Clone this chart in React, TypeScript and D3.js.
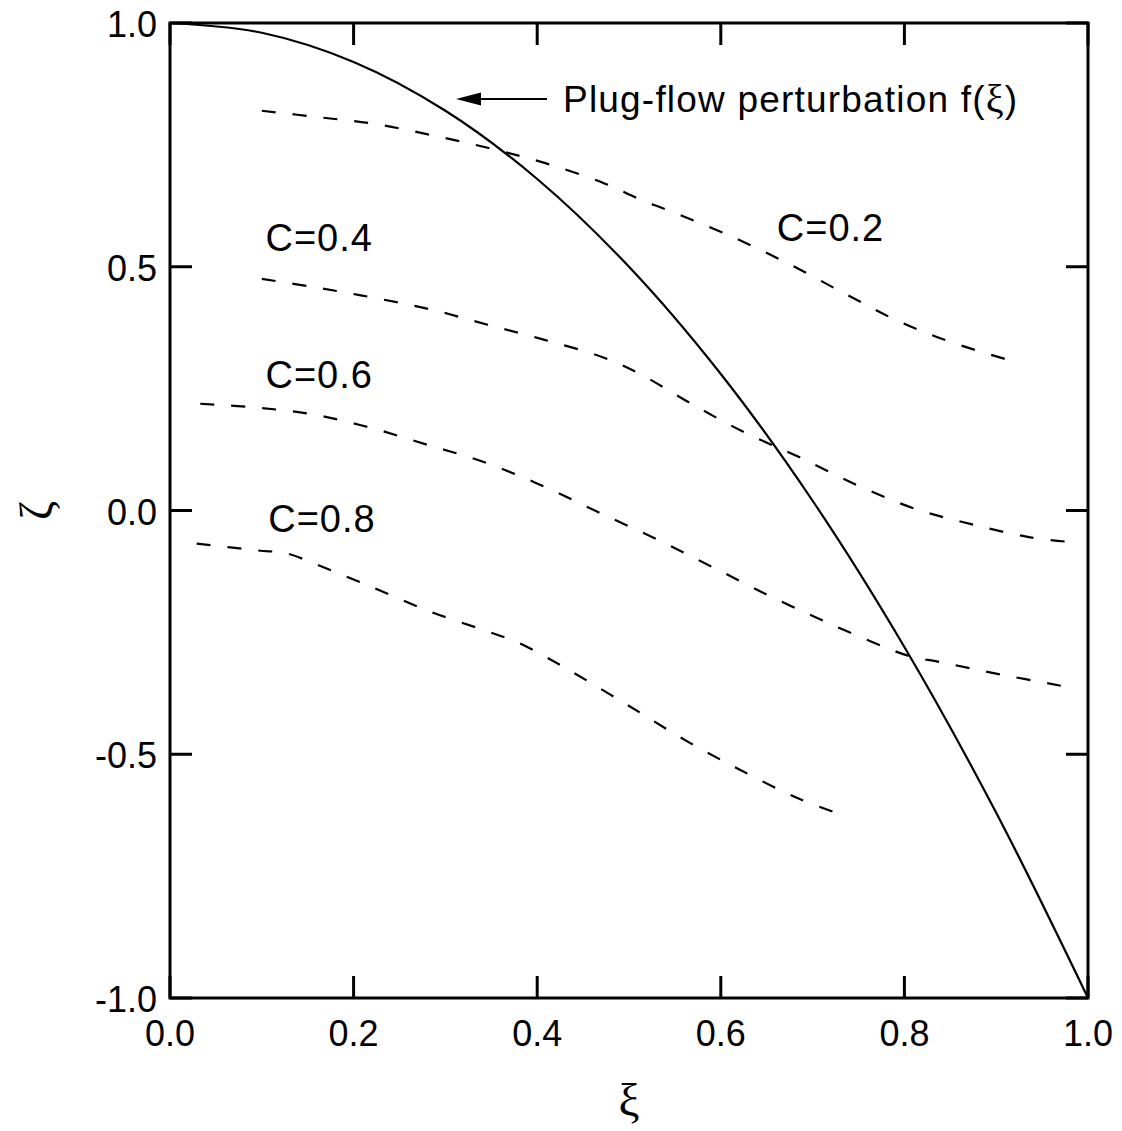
import React from "react";
import * as d3 from "d3";

const plugXi = [0, 0.1, 0.2, 0.3, 0.4, 0.5, 0.6, 0.7, 0.8, 0.9, 1.0];
const plugZeta = [1.0, 0.98, 0.92, 0.82, 0.68, 0.5, 0.28, 0.02, -0.28, -0.62, -1.0];

const c02Xi = [0.1, 0.161, 0.223, 0.285, 0.346, 0.408, 0.472, 0.512, 0.541, 0.607, 0.672, 0.737, 0.795, 0.853, 0.924];
const c02Zeta = [0.82, 0.807, 0.793, 0.77, 0.744, 0.713, 0.672, 0.638, 0.617, 0.566, 0.508, 0.443, 0.387, 0.344, 0.303];

const c04Xi = [0.1, 0.161, 0.223, 0.285, 0.346, 0.408, 0.472, 0.512, 0.566, 0.624, 0.686, 0.752, 0.814, 0.875, 0.937, 0.977];
const c04Zeta = [0.475, 0.457, 0.436, 0.412, 0.381, 0.35, 0.314, 0.28, 0.221, 0.162, 0.109, 0.049, 0.002, -0.029, -0.055, -0.064];

const c06Xi = [0.033, 0.095, 0.156, 0.218, 0.28, 0.341, 0.403, 0.465, 0.53, 0.592, 0.654, 0.716, 0.777, 0.806, 0.839, 0.904, 0.975];
const c06Zeta = [0.219, 0.211, 0.197, 0.17, 0.135, 0.1, 0.053, -0.002, -0.059, -0.117, -0.176, -0.23, -0.279, -0.299, -0.311, -0.336, -0.361];

const c08Xi = [0.029, 0.096, 0.127, 0.16, 0.221, 0.283, 0.346, 0.378, 0.408, 0.439, 0.501, 0.563, 0.624, 0.686, 0.727];
const c08Zeta = [-0.068, -0.082, -0.088, -0.111, -0.158, -0.207, -0.248, -0.27, -0.299, -0.332, -0.402, -0.473, -0.535, -0.592, -0.621];

const xTicks = [0, 0.2, 0.4, 0.6, 0.8, 1.0];
const yTicks = [-1.0, -0.5, 0.0, 0.5, 1.0];

const curveLabels = ["C=0.2", "C=0.4", "C=0.6", "C=0.8"];
const labelXi = [0.661, 0.104, 0.104, 0.107];
const labelZeta = [0.552, 0.533, 0.252, -0.045];

const FONT = "'Liberation Sans', Arial, Helvetica, sans-serif";
const GREEK = "'Liberation Serif', 'DejaVu Serif', serif";

export default function App() {
  const W = 1122, H = 1131;
  const x = d3.scaleLinear().domain([0, 1]).range([170, 1088]);
  const y = d3.scaleLinear().domain([-1, 1]).range([998, 23]);

  const line = d3
    .line<[number, number]>()
    .x((d) => x(d[0]))
    .y((d) => y(d[1]))
    .curve(d3.curveCatmullRom.alpha(0.5));

  const zip = (a: number[], b: number[]) => a.map((v, i) => [v, b[i]] as [number, number]);
  const dashed = [
    zip(c02Xi, c02Zeta),
    zip(c04Xi, c04Zeta),
    zip(c06Xi, c06Zeta),
    zip(c08Xi, c08Zeta),
  ];

  const tickLen = 22;
  const [x0, x1] = x.range();
  const [y0, y1] = y.range();

  return (
    <div style={{ position: "absolute", left: 0, top: 0 }}>
      <svg width={W} height={H} style={{ display: "block", background: "#fff" }}>
        <path d={line(zip(plugXi, plugZeta)) || ""} fill="none" stroke="#000" strokeWidth={2.2} />
        {dashed.map((pts, i) => (
          <path
            key={i}
            d={line(pts) || ""}
            fill="none"
            stroke="#000"
            strokeWidth={2.2}
            strokeDasharray="14 17"
          />
        ))}

        <rect x={x0} y={y1} width={x1 - x0} height={y0 - y1} fill="none" stroke="#000" strokeWidth={3} />

        {xTicks.map((t) => (
          <g key={"x" + t}>
            <line x1={x(t)} x2={x(t)} y1={y0} y2={y0 - tickLen} stroke="#000" strokeWidth={3} />
            <line x1={x(t)} x2={x(t)} y1={y1} y2={y1 + tickLen} stroke="#000" strokeWidth={3} />
            <text x={x(t)} y={y0 + 48} textAnchor="middle" fontFamily={FONT} fontSize={36} fill="#000">
              {t.toFixed(1)}
            </text>
          </g>
        ))}

        {yTicks.map((t) => (
          <g key={"y" + t}>
            <line x1={x0} x2={x0 + tickLen} y1={y(t)} y2={y(t)} stroke="#000" strokeWidth={3} />
            <line x1={x1} x2={x1 - tickLen} y1={y(t)} y2={y(t)} stroke="#000" strokeWidth={3} />
            <text x={x0 - 13} y={y(t) + 14} textAnchor="end" fontFamily={FONT} fontSize={36} fill="#000">
              {t.toFixed(1)}
            </text>
          </g>
        ))}

        {curveLabels.map((s, i) => (
          <text
            key={s}
            x={x(labelXi[i])}
            y={y(labelZeta[i])}
            fontFamily={FONT}
            fontSize={38}
            letterSpacing={1}
            fill="#000"
          >
            {s}
          </text>
        ))}

        <line x1={476} x2={547} y1={99} y2={99} stroke="#000" strokeWidth={2} />
        <path d="M456,99 L481,92.5 L481,105.5 Z" fill="#000" />
        <text x={563} y={112} fontFamily={FONT} fontSize={37} letterSpacing={1.2} fill="#000">
          Plug-flow perturbation f(<tspan fontFamily={GREEK} fontSize={40}>ξ</tspan>)
        </text>

        <text x={(x0 + x1) / 2} y={1116} textAnchor="middle" fontFamily={GREEK} fontSize={47} fill="#000">
          ξ
        </text>
        <text
          transform={`translate(52,${(y0 + y1) / 2}) rotate(-90)`}
          textAnchor="middle"
          fontFamily={GREEK}
          fontSize={46}
          fill="#000"
        >
          ζ
        </text>
      </svg>
    </div>
  );
}
